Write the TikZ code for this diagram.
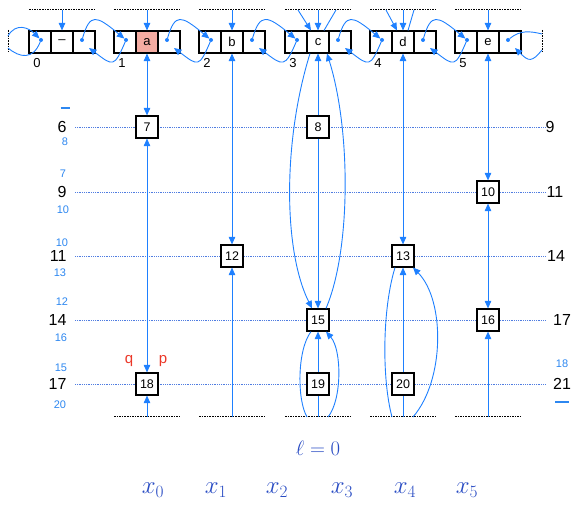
\documentclass[tikz,border=0pt]{standalone}
\usepackage{fontspec}
\setmainfont{Liberation Sans}
\usepackage{tikz}
\usetikzlibrary{arrows.meta}
\definecolor{ptrblue}{RGB}{30,128,255}
\definecolor{rowblue}{RGB}{80,125,225}
\definecolor{numblue}{RGB}{45,135,240}
\definecolor{varblue}{RGB}{40,75,195}
\definecolor{cellred}{RGB}{244,172,162}
\definecolor{markred}{RGB}{235,55,40}

\begin{document}
\begin{tikzpicture}[
  x=1pt,y=-1pt,
  cell/.style={draw,line width=1.1pt,minimum width=22pt,minimum height=22pt,inner sep=0pt,font=\fontsize{13}{13}\selectfont},
  item/.style={draw,fill=white,line width=1.2pt,minimum width=22pt,minimum height=22pt,inner sep=0pt,font=\fontsize{12.5}{12.5}\selectfont},
  dot/.style={circle,fill=ptrblue,inner sep=0pt,minimum size=4pt},
  flow/.style={-{Triangle[length=7.5pt,width=6.5pt]},line width=0.9pt,ptrblue},
  flow2/.style={{Triangle[length=7.5pt,width=6.5pt]}-{Triangle[length=7.5pt,width=6.5pt]},line width=0.9pt,ptrblue},
  plain/.style={line width=0.9pt,ptrblue},
  rule/.style={line width=1pt,dash pattern=on 1.6pt off 1pt},
  row/.style={rowblue,line width=0.9pt,dash pattern=on 0.9pt off 0.9pt},
  rowlabel/.style={font=\fontsize{16}{16}\selectfont},
  hint/.style={numblue,font=\fontsize{11}{11}\selectfont},
  var/.style={varblue,font=\fontsize{24}{24}\selectfont}
]
\useasboundingbox (0,0) rectangle (576,510);

% rows
\foreach \y/\l/\r/\rx [count=\k] in {127/6/9/550,192/9/11/555,256/11/14/556,320/14/17/562,384/17/21/562} {
  \node[rowlabel,anchor=east] (left\k) at (70,\y) {\l};
  \node[rowlabel] (right\k) at (\rx,\y) {\r};
  \draw[row] (75,\y) -- (545,\y);
}
\node[hint] (h0) at (65,108) {\rule{9pt}{1.2pt}};
\node[hint] (h1) at (65,142) {8};
\node[hint] (h2) at (63,174) {7};
\node[hint] (h3) at (63,210) {10};
\node[hint] (h4) at (62,243) {10};
\node[hint] (h5) at (60,273) {13};
\node[hint] (h6) at (62,302) {12};
\node[hint] (h7) at (61,338) {16};
\node[hint] (h8) at (61,368) {15};
\node[hint] (h9) at (60,405) {20};
\node[hint] (h10) at (562,364) {18};
\node[hint] (h11) at (562,402) {\rule{14pt}{1.2pt}};

% list cells
\foreach \i/\x/\v/\f in {0/62/\textendash/white,1/147/a/cellred,2/232/b/white,3/318/c/white,4/403/d/white,5/488/e/white} {
  \node[cell] (L\i) at (\x-22,42) {};
  \node[cell,fill=\f] (M\i) at (\x,42) {\v};
  \node[cell] (R\i) at (\x+22,42) {};
  \node[font=\fontsize{13}{13}\selectfont] (idx\i) at (\x-25,63) {\i};
  \draw[rule] (\x-33,10) -- (\x+33,10);
  \coordinate (T\i) at (\x,10);
  \coordinate (inR\i) at (\x+27,48);
  \draw[flow] (T\i) -- (M\i);
  \node[dot] (pL\i) at (\x-21,40) {};
  \node[dot] (pR\i) at (\x+20,40) {};
}
\foreach \i [evaluate=\i as \j using int(\i+1)] in {0,...,4} {
  \draw[flow] (pR\i) .. controls +(8,-27) and +(-30,-25) .. (pL\j);
  \draw[flow] (pL\j) .. controls +(-12,28) and +(24,18) .. (inR\i);
}
% ends of the list
\draw[rule] (8,30) -- (8,53);
\draw[rule] (542,30) -- (542,53);
\coordinate (lb1) at (8,36);
\coordinate (lb2) at (8,48);
\coordinate (rb1) at (542,34);
\coordinate (rb2) at (542,50);
\draw[flow] (lb1) .. controls +(8,-14) and +(-12,-12) .. (pL0);
\draw[plain] (pL0) .. controls +(-8,20) and +(12,10) .. (lb2);
\draw[plain] (pR5) .. controls +(12,-10) and +(-12,-3) .. (rb1);
\draw[flow] (rb2) .. controls +(-10,12) and +(14,14) .. (inR5);

% extra heads into c and d
\coordinate (Tc1) at (298,10);
\coordinate (Tc2) at (336,10);
\coordinate (Td1) at (386,10);
\coordinate (Td2) at (414,10);
\draw[flow] (Tc1) -- ([xshift=-7pt]M3.north);
\draw[plain] (Tc2) -- ([xshift=6pt]M3.north);
\draw[flow] (Td1) -- ([xshift=-6pt]M4.north);
\draw[plain] (Td2) -- ([xshift=5pt]M4.north);

% bottom rules
\foreach \i/\x in {1/147,2/232,3/318,4/403,5/488} {
  \draw[rule] (\x-33,417) -- (\x+33,417);
  \coordinate (B\i) at (\x,417);
}

% entries
\node[item] (n7) at (147,127) {7};
\node[item] (n8) at (318,127) {8};
\node[item] (n10) at (488,192) {10};
\node[item] (n12) at (232,256) {12};
\node[item] (n13) at (403,256) {13};
\node[item] (n15) at (318,320) {15};
\node[item] (n16) at (488,320) {16};
\node[item] (n18) at (147,384) {18};
\node[item] (n19) at (318,384) {19};
\node[item] (n20) at (403,384) {20};

\draw[flow2] (M1) -- (n7);
\draw[flow2] (n7) -- (n18);
\draw[flow] (B1) -- (n18);
\draw[flow2] (M2) -- (n12);
\draw[flow] (B2) -- (n12);
\draw[flow] (n8) -- (M3);
\draw[flow] (n8) -- (n15);
\draw[flow] ([xshift=-8pt]M3.south) .. controls (283,140) and (283,250) .. ([xshift=-6pt]n15.north);
\draw[flow] ([xshift=8pt]n15.north) .. controls (351,250) and (351,130) .. ([xshift=9pt]M3.south);
\draw[flow] (n19) -- (n15);
\draw[plain] (B3) -- (n19);
\draw[plain] ([xshift=-7pt]n15.south) .. controls (297,350) and (297,400) .. ([xshift=-11pt]B3);
\draw[flow] ([xshift=10pt]B3) .. controls (342,400) and (342,350) .. ([xshift=8pt]n15.south);
\draw[flow2] (M4) -- (n13);
\draw[flow] (n20) -- (n13);
\draw[plain] (B4) -- (n20);
\draw[plain] ([xshift=-8pt]n13.south) .. controls (382,310) and (382,380) .. ([xshift=-11pt]B4);
\draw[flow] ([xshift=10pt]B4) .. controls (445,380) and (445,300) .. ([xshift=10pt]n13.south);
\draw[flow2] (M5) -- (n10);
\draw[flow2] (n10) -- (n16);
\draw[flow] (B5) -- (n16);

\node[markred,font=\fontsize{15}{15}\selectfont] (q) at (129,361) {q};
\node[markred,font=\fontsize{15}{15}\selectfont] (p) at (163,361) {p};

\node[varblue,font=\fontsize{22}{22}\selectfont] (lev) at (318,448) {$\ell=0$};
\foreach \i/\x in {0/153,1/216,2/277,3/342,4/405,5/467}
  \node[var] (x\i) at (\x,490) {$x_{\i}$};
\end{tikzpicture}
\end{document}
